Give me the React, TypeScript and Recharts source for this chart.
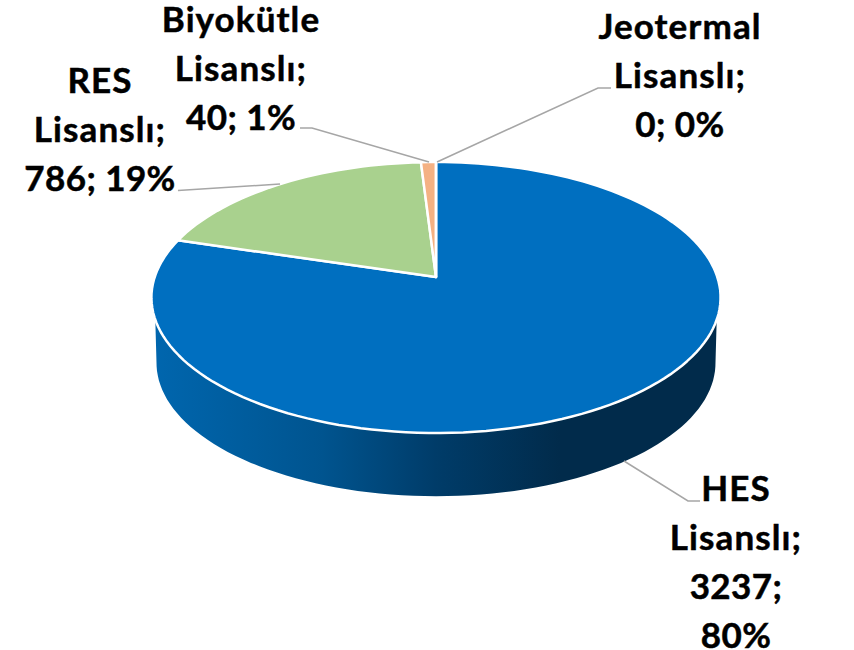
import { PieChart, Pie, Cell } from "recharts";

const names = ["HES Lisanslı", "RES Lisanslı", "Biyokütle Lisanslı", "Jeotermal Lisanslı"];
const values = [3237, 786, 40, 0];
const labelLines = [
  ["HES", "Lisanslı;", "3237;", "80%"],
  ["RES", "Lisanslı;", "786; 19%"],
  ["Biyokütle", "Lisanslı;", "40; 1%"],
  ["Jeotermal", "Lisanslı;", "0; 0%"],
];

const sliceColors = ["#006FC0", "#A9D18E", "#F4B183", "#BFBFBF"];

// label block: centre x and first baseline
const labelPos = [
  { x: 736, y: 501 },
  { x: 100, y: 93 },
  { x: 241, y: 32 },
  { x: 680, y: 39 },
];
const leaderPaths = [
  "M624 461L688 501L700 501",
  "M280 184L178 190.5",
  "M429 162L312 128L300 128",
  "M437 162L598 88L611 88",
];

const data = names.map((name, i) => ({ name, value: values[i] }));

// the disc is tilted, so the pie centre is not the ellipse centre
const K = 0.1513;
const RY = 132.4 / 281.3;

function project(cx: number, cy: number, r: number, deg: number) {
  const rad = (deg * Math.PI) / 180;
  const u = Math.sin(rad);
  const v = Math.cos(rad);
  const w = 1 + K * v;
  return [cx + (r * u) / w, cy - (r * RY * v) / w];
}

function arcPoints(cx: number, cy: number, r: number, from: number, to: number) {
  const n = Math.max(2, Math.ceil(Math.abs(to - from) / 2));
  const pts: number[][] = [];
  for (let i = 0; i <= n; i++) pts.push(project(cx, cy, r, from + ((to - from) * i) / n));
  return pts;
}

const toPath = (pts: number[][]) => pts.map((p, i) => `${i ? "L" : "M"}${p[0].toFixed(1)} ${p[1].toFixed(1)}`).join("");

function Slice(props: any) {
  const { cx, cy, outerRadius, startAngle, endAngle, fill, index } = props;
  const from = 90 - startAngle;
  const to = 90 - endAngle;
  const top = `M${cx} ${cy}` + toPath(arcPoints(cx, cy, outerRadius, from, to)).replace("M", "L") + "Z";
  let wall = null;
  if (index === 0) {
    const upper = arcPoints(cx, cy, outerRadius, 108, 252);
    const lower = arcPoints(cx, cy + 66, outerRadius * 0.982, 260, 100);
    wall = <path d={toPath(upper) + toPath(lower).replace("M", "L") + "Z"} fill="url(#wallGrad)" />;
  }
  return (
    <g>
      {wall}
      <path d={top} fill={fill} stroke="#fff" strokeWidth={2.5} strokeLinejoin="round" />
    </g>
  );
}

function SliceLabel(props: any) {
  const { index } = props;
  const pos = labelPos[index];
  return (
    <text
      x={pos.x}
      y={pos.y}
      textAnchor="middle"
      fontFamily="Lato"
      fontWeight={700}
      fontSize={35}
      stroke="#000"
      strokeWidth={0.5}
      fill="#000"
    >
      {labelLines[index].map((t, i) => (
        // Lato runs narrower than the original font on words
        <tspan key={t} x={pos.x} dy={i === 0 ? 0 : 49} letterSpacing={/\d/.test(t) ? 0.4 : 1.1}>
          {t}
        </tspan>
      ))}
    </text>
  );
}

function LeaderLine(props: any) {
  return <path d={leaderPaths[props.index]} fill="none" stroke="#A6A6A6" strokeWidth={1.5} />;
}

export default function App() {
  return (
    <div style={{ position: "absolute", left: 0, top: 0, width: 854, height: 650, background: "#fff" }}>
      <PieChart width={854} height={650} margin={{ top: 0, right: 0, bottom: 0, left: 0 }}>
        <defs>
          <linearGradient id="wallGrad" gradientUnits="userSpaceOnUse" x1="153" y1="0" x2="718" y2="0">
            <stop offset="0%" stopColor="#0066AE" />
            <stop offset="30%" stopColor="#00548F" />
            <stop offset="50%" stopColor="#003C69" />
            <stop offset="72%" stopColor="#012B4B" />
            <stop offset="100%" stopColor="#012B4B" />
          </linearGradient>
        </defs>
        <Pie
          data={data}
          dataKey="value"
          nameKey="name"
          cx={436}
          cy={277}
          outerRadius={281.3}
          startAngle={90}
          endAngle={-270}
          stroke="#fff"
          shape={Slice}
          label={SliceLabel}
          labelLine={LeaderLine}
          isAnimationActive={false}
        >
          {data.map((d, i) => (
            <Cell key={d.name} fill={sliceColors[i]} />
          ))}
        </Pie>
      </PieChart>
    </div>
  );
}
